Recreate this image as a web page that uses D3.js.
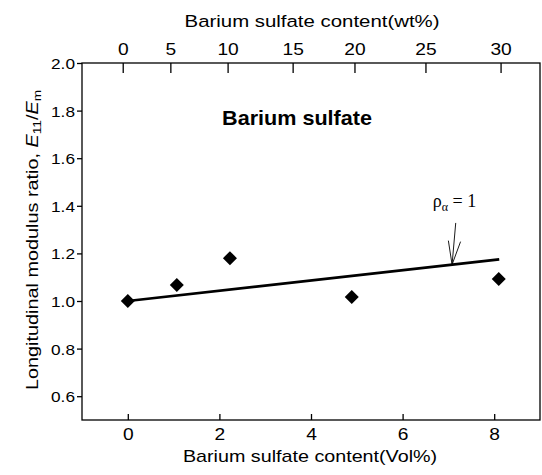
<!DOCTYPE html>
<html><head><meta charset="utf-8">
<script src="https://cdn.jsdelivr.net/npm/d3@7"></script>
<style>body{margin:0;background:#fff}svg{display:block}</style>
</head><body><svg id="c" width="542" height="475"></svg>
<script>
// ---- data ----
const volPct   = [0, 1.07, 2.23, 4.89, 8.10];
const modRatio = [1.00, 1.067, 1.180, 1.017, 1.092];
const fitVol   = [0, 8.11];
const fitRatio = [1.00, 1.175];
const volTicks = [0, 2, 4, 6, 8];
const ratioTicks = [0.6, 0.8, 1.0, 1.2, 1.4, 1.6, 1.8, 2.0];
const wtTickLabels = [0, 5, 10, 15, 20, 25, 30];
const wtTickVol    = [-0.10, 0.94, 2.19, 3.61, 4.96, 6.51, 8.15];
const annotVol = 7.08;      // where the arrow meets the line
const annotTopRatio = 1.328;
const annotTextVol = 6.66, annotTextRatio = 1.395;

// ---- layout ----
const L = 82, R = 540, T = 63, B = 420;
const FONT = "'Liberation Sans', Arial, Helvetica, sans-serif";
const svg = d3.select("#c");
const x = d3.scaleLinear().domain([-1, 9]).range([L, R]);
const y = d3.scaleLinear().domain([0.5, 2.0]).range([B, T]);

// frame
svg.append("rect").attr("x", L).attr("y", T).attr("width", R - L).attr("height", B - T)
  .attr("fill", "none").attr("stroke", "#000").attr("stroke-width", 1.3);

const SX = 1.2; // horizontal stretch of lettering in the reference

// bottom axis (ticks inward)
const gb = svg.append("g").attr("transform", `translate(0,${B})`)
  .call(d3.axisBottom(x).tickValues(volTicks).tickFormat(d3.format("d")).tickSizeInner(-6).tickSizeOuter(0));
gb.select(".domain").remove();
gb.selectAll("line").attr("stroke-width", 1.3);
gb.selectAll("text").attr("font-family", FONT).attr("font-size", 16).attr("fill", "#000")
  .attr("y", 20).attr("dy", 0).attr("transform", `scale(${SX},1)`);

// top axis (wt%) ticks inward
const xTop = d3.scaleOrdinal().domain(wtTickLabels).range(wtTickVol.map(v => x(v)));
const gt = svg.append("g").attr("transform", `translate(0,${T})`);
const tt = gt.selectAll("g").data(wtTickLabels).join("g").attr("transform", d => `translate(${xTop(d)},0)`);
tt.append("line").attr("y1", 0).attr("y2", 10).attr("stroke", "#000").attr("stroke-width", 1.3);
tt.append("text").text(d => d).attr("text-anchor", "middle").attr("y", -8)
  .attr("font-family", FONT).attr("font-size", 16).attr("transform", `scale(${SX},1)`);

// left axis (ticks outward)
const gl = svg.append("g").attr("transform", `translate(${L},0)`)
  .call(d3.axisLeft(y).tickValues(ratioTicks).tickFormat(d3.format(".1f")).tickSizeInner(5).tickSizeOuter(0));
gl.select(".domain").remove();
gl.selectAll("line").attr("stroke-width", 1.3);
const SXL = 1.15;
gl.selectAll("text").attr("font-family", FONT).attr("font-size", 15).attr("fill", "#000")
  .attr("x", -7 / SXL).attr("dy", "0.36em").attr("transform", `scale(${SXL},1)`);

// axis titles
function stretchedText(px, py, str, size, sx, weight) {
  const g = svg.append("g").attr("transform", `translate(${px},${py}) scale(${sx},1)`);
  return g.append("text").text(str).attr("text-anchor", "middle")
    .attr("font-family", FONT).attr("font-size", size).attr("font-weight", weight || "normal");
}
stretchedText(312, 27, "Barium sulfate content(wt%)", 17, 1.2);
stretchedText(310, 462, "Barium sulfate content(Vol%)", 17, 1.16);
stretchedText(297, 125, "Barium sulfate", 20, 1.08, "bold");

// y title
const yt = svg.append("g").attr("transform", `translate(38,240) rotate(-90) scale(1.24,1)`)
  .append("text").attr("text-anchor", "middle").attr("font-family", FONT).attr("font-size", 16);
yt.append("tspan").text("Longitudinal modulus ratio, ");
yt.append("tspan").text("E").attr("font-style", "italic");
yt.append("tspan").text("11").attr("font-size", 11).attr("dy", 3);
yt.append("tspan").text("/").attr("dy", -3);
yt.append("tspan").text("E").attr("font-style", "italic");
yt.append("tspan").text("m").attr("font-size", 11).attr("dy", 3);

// fit line
const fit = fitVol.map((v, i) => [v, fitRatio[i]]);
svg.append("path").datum(fit)
  .attr("d", d3.line().x(d => x(d[0])).y(d => y(d[1])))
  .attr("fill", "none").attr("stroke", "#000").attr("stroke-width", 2.6);

// points (diamonds)
const sym = d3.symbol(d3.symbolSquare, 98);
svg.selectAll("path.pt").data(volPct.map((v, i) => [v, modRatio[i]])).join("path")
  .attr("class", "pt").attr("d", sym)
  .attr("transform", d => `translate(${x(d[0])},${y(d[1])}) rotate(45)`)
  .attr("fill", "#000");

// annotation arrow
const lineAt = v => fitRatio[0] + (fitRatio[1] - fitRatio[0]) * (v - fitVol[0]) / (fitVol[1] - fitVol[0]);
const tipX = x(annotVol), tipY = y(lineAt(annotVol));
const topX = x(annotVol + 0.08), topY = y(annotTopRatio);
const ag = svg.append("g").attr("stroke", "#000").attr("stroke-width", 0.9).attr("fill", "none");
ag.append("line").attr("x1", topX).attr("y1", topY).attr("x2", tipX).attr("y2", tipY);
ag.append("line").attr("x1", tipX - 3.7).attr("y1", tipY - 24).attr("x2", tipX).attr("y2", tipY);
ag.append("line").attr("x1", tipX + 8.5).attr("y1", tipY - 23).attr("x2", tipX).attr("y2", tipY);

const at = svg.append("text").attr("x", x(annotTextVol)).attr("y", y(annotTextRatio))
  .attr("font-family", "'Liberation Serif', 'Times New Roman', serif").attr("font-size", 18);
at.append("tspan").text("ρ");
at.append("tspan").text("α").attr("font-size", 12).attr("dy", 4);
at.append("tspan").text(" = 1").attr("dy", -4);
</script></body></html>
